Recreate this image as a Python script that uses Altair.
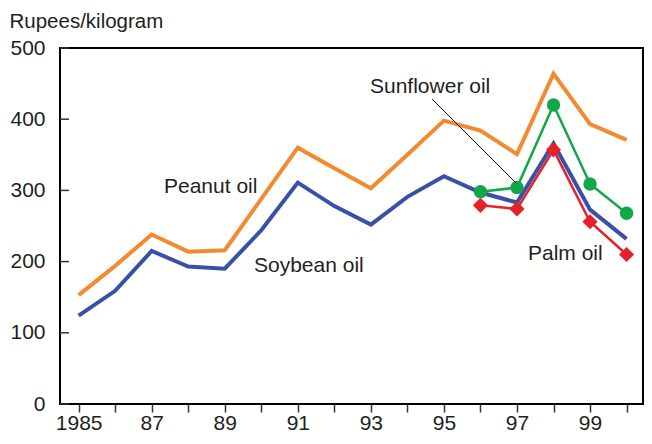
import altair as alt
import pandas as pd

years_all = list(range(1985, 2001))
peanut = [153, 194, 238, 214, 216, 288, 360, 331, 303, 350, 398, 384, 351, 464, 393, 371]
soybean = [124, 159, 215, 193, 190, 244, 311, 278, 252, 291, 320, 297, 283, 366, 273, 232]
years_late = [1996, 1997, 1998, 1999, 2000]
sunflower = [298, 304, 420, 309, 268]
palm = [279, 274, 357, 256, 210]
y_ticks = [0, 100, 200, 300, 400, 500]

FONT = "Liberation Sans"
TXT = "#231F20"

df_main = pd.DataFrame({"year": years_all * 2,
                        "price": peanut + soybean,
                        "oil": ["Peanut oil"] * 16 + ["Soybean oil"] * 16})
df_late = pd.DataFrame({"year": years_late * 2,
                        "price": sunflower + palm,
                        "oil": ["Sunflower oil"] * 5 + ["Palm oil"] * 5})

xscale = alt.Scale(domain=[1984.49, 2000.45], nice=False, zero=False)
yscale = alt.Scale(domain=[0, 500], nice=False)

xaxis = alt.Axis(values=years_all, title=None, grid=False, domain=False,
                 tickSize=8, tickWidth=1.5, tickColor="#333333",
                 labelFont=FONT, labelFontSize=21, labelColor=TXT, labelPadding=0,
                 labelExpr="datum.value == 1985 ? '1985' : (datum.value % 2 == 1 ? slice(toString(datum.value), 2) : '')",
                 labelFlush=False, labelOverlap=False)
yaxis = alt.Axis(values=y_ticks, title="Rupees/kilogram", grid=False, domain=False,
                 ticks=False, tickSize=0, labelPadding=15,
                 labelFont=FONT, labelFontSize=21, labelColor=TXT,
                 titleFont=FONT, titleFontSize=20.5, titleFontWeight="normal", titleColor=TXT,
                 titleAngle=0, titleAlign="left", titleBaseline="top",
                 titleX=-51, titleY=-37)

X = alt.X("year:Q", scale=xscale, axis=xaxis)
Y = alt.Y("price:Q", scale=yscale, axis=yaxis)

inner_ticks = alt.Chart(pd.DataFrame({"price": y_ticks})).mark_rule(
    color="#333333", strokeWidth=1.5).encode(
    y=Y, x=alt.value(0), x2=alt.value(9))

peanut_line = alt.Chart(df_main).transform_filter("datum.oil == 'Peanut oil'").mark_line(
    color="#F28A30", strokeWidth=4).encode(x=X, y=Y)
soy_line = alt.Chart(df_main).transform_filter("datum.oil == 'Soybean oil'").mark_line(
    color="#3A4FA8", strokeWidth=4).encode(x=X, y=Y)
sun_line = alt.Chart(df_late).transform_filter("datum.oil == 'Sunflower oil'").mark_line(
    color="#12A84A", strokeWidth=2.5,
    point=alt.OverlayMarkDef(shape="circle", size=180, filled=True, color="#12A84A")).encode(x=X, y=Y)
palm_line = alt.Chart(df_late).transform_filter("datum.oil == 'Palm oil'").mark_line(
    color="#E8202A", strokeWidth=2.5,
    point=alt.OverlayMarkDef(shape="diamond", size=230, filled=True, color="#E8202A")).encode(x=X, y=Y)

labels = pd.DataFrame({
    "t": ["Peanut oil", "Soybean oil", "Palm oil", "Sunflower oil"],
    "px": [104, 194, 468, 310],
    "py": [145, 224, 212, 45],
})
label_layers = [
    alt.Chart(labels.iloc[[i]]).mark_text(
        align="left", baseline="alphabetic", font=FONT, fontSize=21, color=TXT).encode(
        text="t:N", x=alt.value(int(labels.px[i])), y=alt.value(int(labels.py[i])))
    for i in range(len(labels))
]

leader = alt.Chart(pd.DataFrame({"a": [0]})).mark_rule(color="#111111", strokeWidth=1).encode(
    x=alt.value(372), x2=alt.value(456), y=alt.value(51), y2=alt.value(135))

chart = alt.layer(inner_ticks, peanut_line, soy_line, sun_line, palm_line, leader, *label_layers).properties(
    width=583, height=356,
    autosize=alt.AutoSizeParams(type="none"),
    padding={"left": 52, "top": 40, "right": 1, "bottom": 32},
    background="white",
).configure_view(stroke="black", strokeWidth=2)

chart.save("out.html", embed_options={"renderer": "svg", "actions": False})
